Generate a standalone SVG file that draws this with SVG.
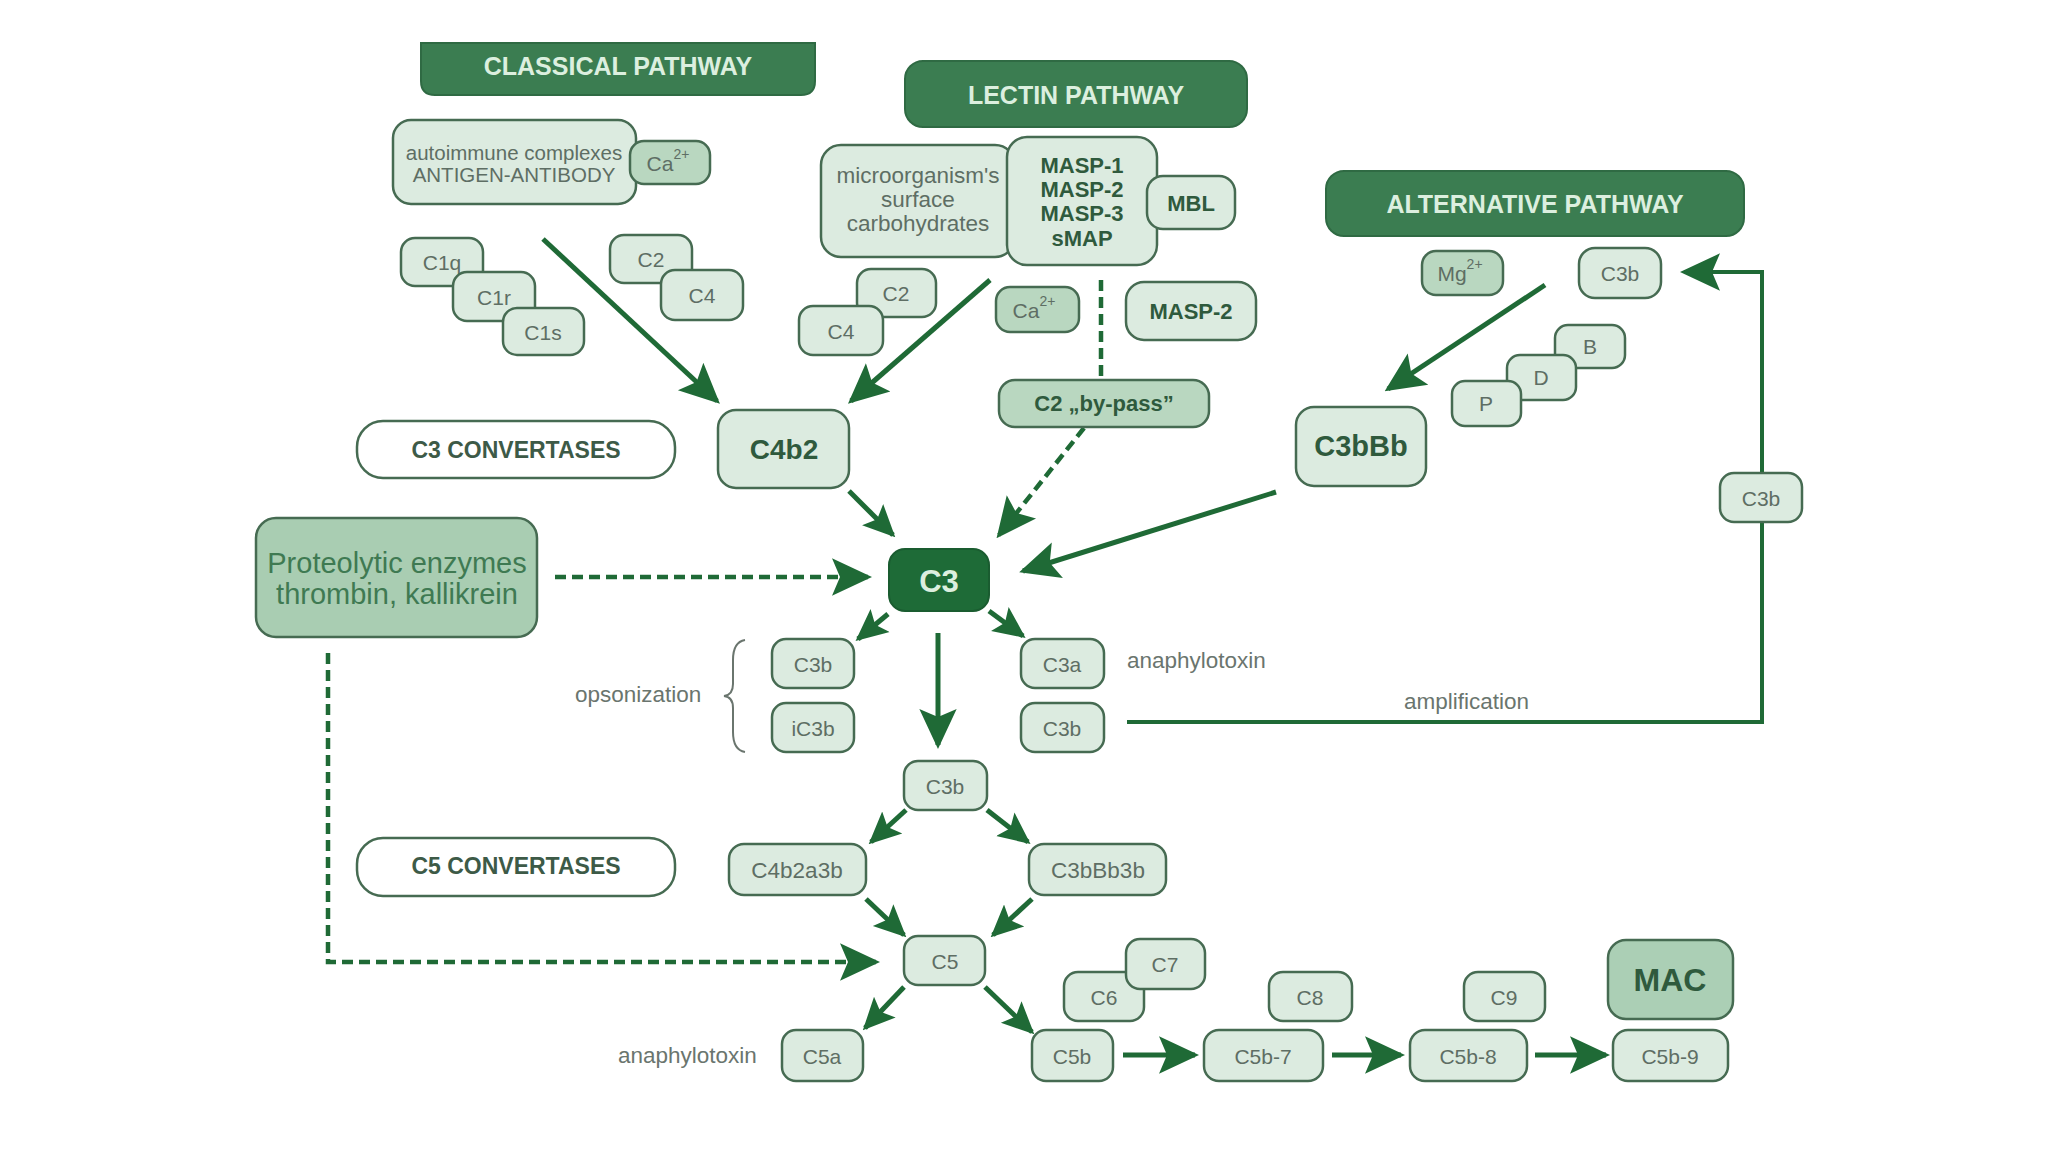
<svg xmlns="http://www.w3.org/2000/svg" width="2048" height="1152" viewBox="0 0 2048 1152">
<style>
.n{fill:#dcebe0;stroke:#466b52;stroke-width:2.5}
.m{fill:#b9d7c0;stroke:#466b52;stroke-width:2.5}
.w{fill:#ffffff;stroke:#466b52;stroke-width:2.5}
.h{fill:#3b7d51;stroke:#2f6a43;stroke-width:2}
.t{font-family:"Liberation Sans",Arial,sans-serif;font-size:21px;fill:#5e6e64;text-anchor:middle;dominant-baseline:central}
.b{font-family:"Liberation Sans",Arial,sans-serif;font-size:22px;font-weight:bold;fill:#2f5a3d;text-anchor:middle;dominant-baseline:central}
.ht{font-family:"Liberation Sans",Arial,sans-serif;font-size:25px;font-weight:bold;fill:#dcefdf;text-anchor:middle;dominant-baseline:central}
.lab{font-family:"Liberation Sans",Arial,sans-serif;font-size:22.5px;fill:#6a756e;dominant-baseline:central}
.a{fill:none;stroke:#1f6a36;stroke-width:5}
.d{fill:none;stroke:#1f6a36;stroke-width:4.5;stroke-dasharray:11 6}
</style>
<defs>
<marker id="ah" viewBox="0 0 30 30" refX="27" refY="15" markerWidth="40" markerHeight="40" markerUnits="userSpaceOnUse" orient="auto">
<path d="M0,1 L30,15 L0,29 L6,15 z" fill="#1f6a36"/>
</marker>
<marker id="am" viewBox="0 0 30 30" refX="27" refY="15" markerWidth="32" markerHeight="32" markerUnits="userSpaceOnUse" orient="auto">
<path d="M0,1 L30,15 L0,29 L6,15 z" fill="#1f6a36"/>
</marker>
</defs>
<rect width="2048" height="1152" fill="#ffffff"/>

<g id="connectors">
<line class="a" x1="543" y1="239" x2="717" y2="401" marker-end="url(#ah)"/>
<line class="a" x1="990" y1="280" x2="851" y2="401" marker-end="url(#ah)"/>
<line class="d" x1="1101" y1="280" x2="1101" y2="379"/>
<line class="d" x1="1084" y1="428" x2="999" y2="535" marker-end="url(#ah)"/>
<line class="a" x1="1545" y1="285" x2="1388" y2="389" marker-end="url(#ah)"/>
<line class="a" x1="849" y1="491" x2="893" y2="535" marker-end="url(#am)"/>
<line class="a" x1="1276" y1="492" x2="1023" y2="571" marker-end="url(#ah)"/>
<line class="d" x1="555" y1="577" x2="868" y2="577" marker-end="url(#ah)"/>
<line class="a" x1="888" y1="614" x2="858" y2="639" marker-end="url(#am)"/>
<line class="a" x1="989" y1="611" x2="1023" y2="636" marker-end="url(#am)"/>
<line class="a" x1="938" y1="633" x2="938" y2="745" marker-end="url(#ah)"/>
<polyline class="a" points="1127,722 1762,722 1762,272 1684,272" marker-end="url(#ah)" style="stroke-width:4"/>
<line class="a" x1="906" y1="810" x2="871" y2="842" marker-end="url(#am)"/>
<line class="a" x1="987" y1="810" x2="1028" y2="842" marker-end="url(#am)"/>
<line class="a" x1="866" y1="899" x2="904" y2="935" marker-end="url(#am)"/>
<line class="a" x1="1032" y1="899" x2="993" y2="935" marker-end="url(#am)"/>
<polyline class="d" points="328,653 328,962 876,962" marker-end="url(#ah)"/>
<line class="a" x1="904" y1="987" x2="865" y2="1028" marker-end="url(#am)"/>
<line class="a" x1="985" y1="987" x2="1032" y2="1032" marker-end="url(#am)"/>
<line class="a" x1="1123" y1="1055" x2="1195" y2="1055" marker-end="url(#ah)"/>
<line class="a" x1="1332" y1="1055" x2="1401" y2="1055" marker-end="url(#ah)"/>
<line class="a" x1="1535" y1="1055" x2="1606" y2="1055" marker-end="url(#ah)"/>
</g>

<g id="classical-pathway">
<path class="h" d="M421,43 H815 V81 Q815,95 801,95 H435 Q421,95 421,81 Z"/>
<text class="ht" x="618" y="66">CLASSICAL PATHWAY</text>
</g>
<g id="lectin-pathway">
<rect class="h" x="905" y="61" width="342" height="66" rx="18"/>
<text class="ht" x="1076" y="95">LECTIN PATHWAY</text>
</g>
<g id="alternative-pathway">
<rect class="h" x="1326" y="171" width="418" height="65" rx="18"/>
<text class="ht" x="1535" y="204">ALTERNATIVE PATHWAY</text>
</g>

<g id="immune-complexes">
<rect class="n" x="393" y="120" width="243" height="84" rx="18"/>
<text class="t" x="514" y="152" style="font-size:20.5px">autoimmune complexes</text>
<text class="t" x="514" y="174" style="font-size:20.5px">ANTIGEN-ANTIBODY</text>
</g>
<g id="ca-classical">
<rect class="m" x="630" y="141" width="80" height="43" rx="14"/>
<text class="t" x="668" y="163">Ca<tspan dy="-9" style="font-size:14px">2+</tspan></text>
</g>
<g id="c1q"><rect class="n" x="401" y="238" width="82" height="48" rx="14"/><text class="t" x="442" y="262">C1q</text></g>
<g id="c1r"><rect class="n" x="453" y="272" width="82" height="49" rx="14"/><text class="t" x="494" y="297">C1r</text></g>
<g id="c1s"><rect class="n" x="503" y="308" width="81" height="47" rx="14"/><text class="t" x="543" y="332">C1s</text></g>
<g id="c2-classical"><rect class="n" x="610" y="235" width="82" height="48" rx="14"/><text class="t" x="651" y="259">C2</text></g>
<g id="c4-classical"><rect class="n" x="661" y="270" width="82" height="50" rx="14"/><text class="t" x="702" y="295">C4</text></g>

<g id="carbohydrates">
<rect class="n" x="821" y="145" width="194" height="112" rx="20"/>
<text class="t" x="918" y="175" style="font-size:22.5px">microorganism's</text>
<text class="t" x="918" y="199" style="font-size:22.5px">surface</text>
<text class="t" x="918" y="223" style="font-size:22.5px">carbohydrates</text>
</g>
<g id="masp">
<rect class="n" x="1007" y="137" width="150" height="128" rx="20"/>
<text class="b" x="1082" y="165">MASP-1</text>
<text class="b" x="1082" y="189">MASP-2</text>
<text class="b" x="1082" y="213">MASP-3</text>
<text class="b" x="1082" y="238">sMAP</text>
</g>
<g id="mbl"><rect class="n" x="1147" y="176" width="88" height="53" rx="16"/><text class="b" x="1191" y="203">MBL</text></g>
<g id="c2-lectin"><rect class="n" x="857" y="269" width="79" height="48" rx="14"/><text class="t" x="896" y="293">C2</text></g>
<g id="c4-lectin"><rect class="n" x="799" y="306" width="84" height="49" rx="14"/><text class="t" x="841" y="331">C4</text></g>
<g id="ca-lectin">
<rect class="m" x="996" y="287" width="83" height="45" rx="14"/>
<text class="t" x="1034" y="310">Ca<tspan dy="-9" style="font-size:14px">2+</tspan></text>
</g>
<g id="masp2"><rect class="n" x="1126" y="282" width="130" height="58" rx="18"/><text class="b" x="1191" y="311">MASP-2</text></g>
<g id="c2-bypass"><rect class="m" x="999" y="380" width="210" height="47" rx="16"/><text class="b" x="1104" y="403">C2 „by-pass”</text></g>

<g id="mg"><rect class="m" x="1422" y="251" width="81" height="44" rx="14"/><text class="t" x="1460" y="273">Mg<tspan dy="-9" style="font-size:14px">2+</tspan></text></g>
<g id="c3b-alt"><rect class="n" x="1579" y="248" width="82" height="50" rx="16"/><text class="t" x="1620" y="273">C3b</text></g>
<g id="factor-b"><rect class="n" x="1555" y="325" width="70" height="43" rx="13"/><text class="t" x="1590" y="346">B</text></g>
<g id="factor-d"><rect class="n" x="1507" y="355" width="69" height="45" rx="13"/><text class="t" x="1541" y="377">D</text></g>
<g id="factor-p"><rect class="n" x="1452" y="381" width="69" height="45" rx="13"/><text class="t" x="1486" y="403">P</text></g>

<g id="c3-convertases"><rect class="w" x="357" y="421" width="318" height="57" rx="26"/><text class="b" x="516" y="450" style="font-size:23px;fill:#3d5a47">C3 CONVERTASES</text></g>
<g id="c4b2"><rect class="n" x="718" y="410" width="131" height="78" rx="18"/><text class="b" x="784" y="449" style="font-size:28px">C4b2</text></g>
<g id="c3bbb"><rect class="n" x="1296" y="407" width="130" height="79" rx="18"/><text class="b" x="1361" y="446" style="font-size:29px">C3bBb</text></g>

<g id="proteolytic">
<rect x="256" y="518" width="281" height="119" rx="20" fill="#a9cdb2" stroke="#466b52" stroke-width="2.5"/>
<text class="t" x="397" y="563" style="font-size:29px;fill:#3f7a52">Proteolytic enzymes</text>
<text class="t" x="397" y="594" style="font-size:29px;fill:#3f7a52">thrombin, kallikrein</text>
</g>
<g id="c3"><rect x="889" y="549" width="100" height="62" rx="16" fill="#1e6b37" stroke="#1a5c30" stroke-width="2"/><text class="ht" x="939" y="581" style="font-size:31px">C3</text></g>

<g id="c3b-left"><rect class="n" x="772" y="639" width="82" height="49" rx="14"/><text class="t" x="813" y="664">C3b</text></g>
<g id="ic3b"><rect class="n" x="772" y="703" width="82" height="49" rx="14"/><text class="t" x="813" y="728">iC3b</text></g>
<g id="c3a"><rect class="n" x="1021" y="639" width="83" height="49" rx="14"/><text class="t" x="1062" y="664">C3a</text></g>
<g id="c3b-right"><rect class="n" x="1021" y="703" width="83" height="49" rx="14"/><text class="t" x="1062" y="728">C3b</text></g>
<g id="opsonization">
<text class="lab" x="575" y="694">opsonization</text>
<path d="M745,640 Q733,642 733,660 L733,684 Q733,695 724,696 Q733,697 733,708 L733,732 Q733,750 745,752" fill="none" stroke="#6a756e" stroke-width="2"/>
</g>
<text class="lab" x="1127" y="660">anaphylotoxin</text>
<text class="lab" x="1404" y="701">amplification</text>
<g id="c3b-feedback"><rect class="n" x="1720" y="473" width="82" height="49" rx="14"/><text class="t" x="1761" y="498">C3b</text></g>

<g id="c3b-mid"><rect class="n" x="904" y="761" width="83" height="49" rx="14"/><text class="t" x="945" y="786">C3b</text></g>
<g id="c5-convertases"><rect class="w" x="357" y="838" width="318" height="58" rx="26"/><text class="b" x="516" y="866" style="font-size:23px;fill:#3d5a47">C5 CONVERTASES</text></g>
<g id="c4b2a3b"><rect class="n" x="729" y="844" width="137" height="51" rx="15"/><text class="t" x="797" y="870" style="font-size:22.5px">C4b2a3b</text></g>
<g id="c3bbb3b"><rect class="n" x="1029" y="844" width="137" height="51" rx="15"/><text class="t" x="1098" y="870" style="font-size:22.5px">C3bBb3b</text></g>
<g id="c5"><rect class="n" x="904" y="936" width="81" height="49" rx="14"/><text class="t" x="945" y="961">C5</text></g>
<g id="c5a"><rect class="n" x="782" y="1030" width="81" height="51" rx="14"/><text class="t" x="822" y="1056">C5a</text></g>
<text class="lab" x="618" y="1055">anaphylotoxin</text>
<g id="c5b"><rect class="n" x="1032" y="1030" width="81" height="51" rx="14"/><text class="t" x="1072" y="1056">C5b</text></g>
<g id="c6"><rect class="n" x="1064" y="972" width="80" height="49" rx="14"/><text class="t" x="1104" y="997">C6</text></g>
<g id="c7"><rect class="n" x="1126" y="939" width="79" height="50" rx="14"/><text class="t" x="1165" y="964">C7</text></g>
<g id="c5b-7"><rect class="n" x="1204" y="1030" width="119" height="51" rx="15"/><text class="t" x="1263" y="1056">C5b-7</text></g>
<g id="c8"><rect class="n" x="1269" y="972" width="83" height="49" rx="14"/><text class="t" x="1310" y="997">C8</text></g>
<g id="c5b-8"><rect class="n" x="1410" y="1030" width="117" height="51" rx="15"/><text class="t" x="1468" y="1056">C5b-8</text></g>
<g id="c9"><rect class="n" x="1464" y="972" width="81" height="49" rx="14"/><text class="t" x="1504" y="997">C9</text></g>
<g id="mac"><rect x="1608" y="940" width="125" height="79" rx="18" fill="#abcfb5" stroke="#466b52" stroke-width="2.5"/><text class="b" x="1670" y="980" style="font-size:32px">MAC</text></g>
<g id="c5b-9"><rect class="n" x="1613" y="1030" width="115" height="51" rx="15"/><text class="t" x="1670" y="1056">C5b-9</text></g>
</svg>
